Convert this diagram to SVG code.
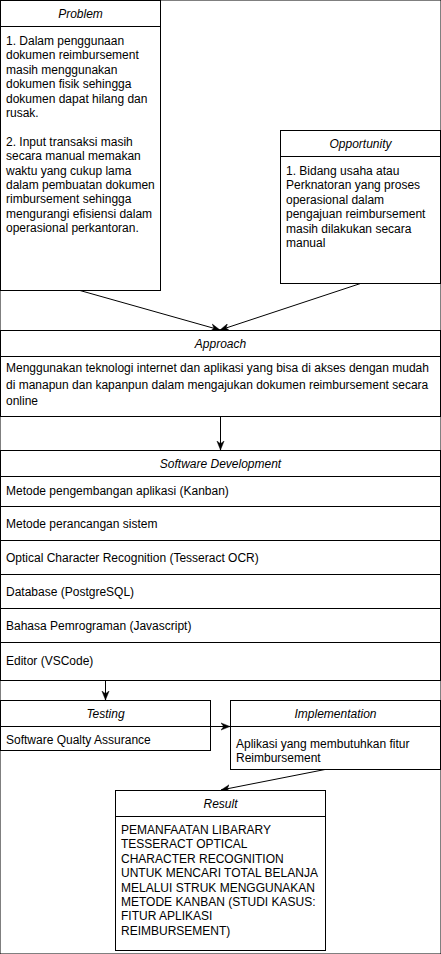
<svg xmlns="http://www.w3.org/2000/svg" width="441" height="954" viewBox="0 0 441 954">
<style>
rect,line.sep{fill:#fff;stroke:#000;stroke-width:1}
line.sep{fill:none}
text{font-family:"Liberation Sans",Arial,Helvetica,sans-serif;font-size:12px;fill:#000}
.h{font-style:italic;text-anchor:middle}
.c{stroke:#000;stroke-width:1;fill:none}
</style>
<defs>
<marker id="arr" viewBox="0 0 10 10" refX="10" refY="5" markerWidth="9" markerHeight="9" orient="auto" markerUnits="userSpaceOnUse">
<path d="M0,1 L10,5 L0,9 L3,5 z" fill="#000" stroke="#000" stroke-width="0.5"/>
</marker>
</defs>
<rect x="0" y="0" width="441" height="954" fill="#fff" stroke="none"/>
<g id="connectors">
<line class="c" x1="80" y1="290.5" x2="220" y2="330" marker-end="url(#arr)"/>
<line class="c" x1="360.5" y1="283.5" x2="220" y2="330" marker-end="url(#arr)"/>
<line class="c" x1="220.5" y1="416.5" x2="220.5" y2="450" marker-end="url(#arr)"/>
<line class="c" x1="105.5" y1="680.5" x2="105.5" y2="700" marker-end="url(#arr)"/>
<line class="c" x1="210.5" y1="726.5" x2="230" y2="726.5" marker-end="url(#arr)"/>
<line class="c" x1="325" y1="769.5" x2="221" y2="790" marker-end="url(#arr)"/>
</g>
<g id="problem">
<rect x="0.5" y="0.5" width="160" height="290"/>
<line class="sep" x1="0.5" y1="26.5" x2="160.5" y2="26.5"/>
<text class="h" x="80.5" y="18">Problem</text>
<text x="6" y="45">
<tspan x="6" y="45">1. Dalam penggunaan</tspan>
<tspan x="6" y="59.4">dokumen reimbursement</tspan>
<tspan x="6" y="73.8">masih menggunakan</tspan>
<tspan x="6" y="88.2">dokumen fisik sehingga</tspan>
<tspan x="6" y="102.6">dokumen dapat hilang dan</tspan>
<tspan x="6" y="117">rusak.</tspan>
<tspan x="6" y="145.8">2. Input transaksi masih</tspan>
<tspan x="6" y="160.2">secara manual memakan</tspan>
<tspan x="6" y="174.6">waktu yang cukup lama</tspan>
<tspan x="6" y="189">dalam pembuatan dokumen</tspan>
<tspan x="6" y="203.4">rimbursement sehingga</tspan>
<tspan x="6" y="217.8">mengurangi efisiensi dalam</tspan>
<tspan x="6" y="232.2">operasional perkantoran.</tspan>
</text>
</g>
<g id="opportunity">
<rect x="280.5" y="130.5" width="160" height="153"/>
<line class="sep" x1="280.5" y1="156.5" x2="440.5" y2="156.5"/>
<text class="h" x="360.5" y="148">Opportunity</text>
<text>
<tspan x="286" y="175">1. Bidang usaha atau</tspan>
<tspan x="286" y="189.4">Perknatoran yang proses</tspan>
<tspan x="286" y="203.8">operasional dalam</tspan>
<tspan x="286" y="218.2">pengajuan reimbursement</tspan>
<tspan x="286" y="232.6">masih dilakukan secara</tspan>
<tspan x="286" y="247">manual</tspan>
</text>
</g>
<g id="approach">
<rect x="0.5" y="330.5" width="440" height="86"/>
<line class="sep" x1="0.5" y1="356.5" x2="440.5" y2="356.5"/>
<text class="h" x="220.5" y="348">Approach</text>
<text>
<tspan x="6" y="372">Menggunakan teknologi internet dan aplikasi yang bisa di akses dengan mudah</tspan>
<tspan x="6" y="388.5">di manapun dan kapanpun dalam mengajukan dokumen reimbursement secara</tspan>
<tspan x="6" y="405">online</tspan>
</text>
</g>
<g id="software-development">
<rect x="0.5" y="450.5" width="440" height="230"/>
<line class="sep" x1="0.5" y1="476.5" x2="440.5" y2="476.5"/>
<line class="sep" x1="0.5" y1="506.5" x2="440.5" y2="506.5"/>
<line class="sep" x1="0.5" y1="540.5" x2="440.5" y2="540.5"/>
<line class="sep" x1="0.5" y1="574.5" x2="440.5" y2="574.5"/>
<line class="sep" x1="0.5" y1="608.5" x2="440.5" y2="608.5"/>
<line class="sep" x1="0.5" y1="642.5" x2="440.5" y2="642.5"/>
<text class="h" x="220.5" y="468">Software Development</text>
<text x="6" y="495">Metode pengembangan aplikasi (Kanban)</text>
<text x="6" y="528">Metode perancangan sistem</text>
<text x="6" y="562">Optical Character Recognition (Tesseract OCR)</text>
<text x="6" y="596">Database (PostgreSQL)</text>
<text x="6" y="630">Bahasa Pemrograman (Javascript)</text>
<text x="6" y="665">Editor (VSCode)</text>
</g>
<g id="testing">
<rect x="0.5" y="700.5" width="210" height="50"/>
<line class="sep" x1="0.5" y1="726.5" x2="210.5" y2="726.5"/>
<text class="h" x="105.5" y="718">Testing</text>
<text x="6" y="744">Software Qualty Assurance</text>
</g>
<g id="implementation">
<rect x="230.5" y="700.5" width="210" height="69"/>
<line class="sep" x1="230.5" y1="726.5" x2="440.5" y2="726.5"/>
<text class="h" x="335.5" y="718">Implementation</text>
<text>
<tspan x="236" y="748">Aplikasi yang membutuhkan fitur</tspan>
<tspan x="236" y="762.4">Reimbursement</tspan>
</text>
</g>
<g id="result">
<rect x="115.5" y="790.5" width="210" height="160"/>
<line class="sep" x1="115.5" y1="816.5" x2="325.5" y2="816.5"/>
<text class="h" x="220.5" y="808">Result</text>
<text>
<tspan x="121" y="834">PEMANFAATAN LIBARARY</tspan>
<tspan x="121" y="848.4">TESSERACT OPTICAL</tspan>
<tspan x="121" y="862.8">CHARACTER RECOGNITION</tspan>
<tspan x="121" y="877.2">UNTUK MENCARI TOTAL BELANJA</tspan>
<tspan x="121" y="891.6">MELALUI STRUK MENGGUNAKAN</tspan>
<tspan x="121" y="906">METODE KANBAN (STUDI KASUS:</tspan>
<tspan x="121" y="920.4">FITUR APLIKASI</tspan>
<tspan x="121" y="934.8">REIMBURSEMENT)</tspan>
</text>
</g>
</svg>
